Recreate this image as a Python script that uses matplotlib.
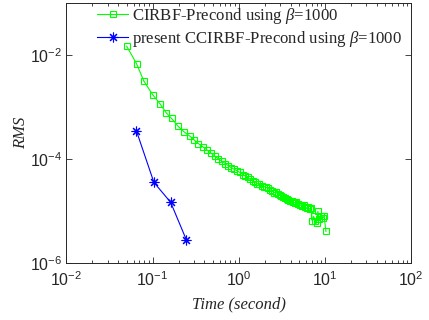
import matplotlib
matplotlib.use("Agg")
import matplotlib.pyplot as plt

# CIRBF-Precond, beta = 1000
t_cirbf = [0.050, 0.065, 0.079, 0.100, 0.122, 0.144, 0.166, 0.198, 0.23, 0.27,
           0.30, 0.34, 0.38, 0.43, 0.48, 0.53, 0.58, 0.64, 0.70, 0.76,
           0.82, 0.89, 0.96, 1.03, 1.11, 1.19, 1.27, 1.36, 1.45, 1.54,
           1.64, 1.74, 1.85, 1.96, 2.07, 2.19, 2.31, 2.44, 2.57, 2.70,
           2.84, 2.98, 3.13, 3.28, 3.44, 3.60, 3.77, 3.94, 4.12, 4.30,
           4.49, 4.68, 4.88, 5.08, 5.29, 5.50, 5.72, 5.95, 6.18, 6.42,
           6.66, 6.91, 7.16, 7.42, 7.70, 8.00, 8.30, 8.60, 9.00, 9.40,
           9.80, 10.3]
rms_cirbf = [1.49e-2, 6.9e-3, 3.2e-3, 1.75e-3, 1.16e-3, 7.8e-4, 6.1e-4, 4.3e-4, 3.4e-4, 2.8e-4,
             2.4e-4, 2.0e-4, 1.75e-4, 1.5e-4, 1.3e-4, 1.15e-4, 1.02e-4, 9.1e-5, 8.3e-5, 7.5e-5,
             6.9e-5, 6.4e-5, 6.0e-5, 5.6e-5, 5.1e-5, 4.8e-5, 4.5e-5, 4.1e-5, 3.9e-5, 3.6e-5,
             3.4e-5, 3.3e-5, 3.1e-5, 3.0e-5, 2.9e-5, 2.75e-5, 2.6e-5, 2.45e-5, 2.3e-5, 2.35e-5,
             2.15e-5, 2.05e-5, 2.0e-5, 1.85e-5, 1.8e-5, 1.75e-5, 1.65e-5, 1.6e-5, 1.55e-5, 1.5e-5,
             1.45e-5, 1.5e-5, 1.4e-5, 1.35e-5, 1.3e-5, 1.25e-5, 1.3e-5, 1.2e-5, 1.15e-5, 1.2e-5,
             1.1e-5, 1.15e-5, 6.4e-6, 8.0e-6, 6.6e-6, 5.9e-6, 1.0e-5, 7.0e-6, 8.2e-6, 7.5e-6,
             8.0e-6, 4.1e-6]

# present CCIRBF-Precond, beta = 1000
t_ccirbf = [0.0647, 0.1035, 0.162, 0.246]
rms_ccirbf = [3.56e-4, 3.6e-5, 1.49e-5, 2.85e-6]

label_cirbf = r"CIRBF-Precond using $\beta$=1000"
label_ccirbf = r"present CCIRBF-Precond using $\beta$=1000"

plt.rcParams["font.family"] = "Liberation Sans"
plt.rcParams["mathtext.fontset"] = "custom"
plt.rcParams["mathtext.rm"] = "Liberation Sans"
plt.rcParams["mathtext.it"] = "Liberation Serif:italic"
plt.rcParams["axes.unicode_minus"] = False

fig = plt.figure(figsize=(4.29, 3.2), dpi=100)
ax = fig.add_axes([0.155, 0.177, 0.803, 0.813])

ax.loglog(t_cirbf, rms_cirbf, color=(0, 1, 0), lw=0.8, marker="s", ms=5,
          mfc="none", mew=0.8, label=label_cirbf)
ax.loglog(t_ccirbf, rms_ccirbf, color=(0, 0, 1), lw=0.8, marker=(8, 2, 0), ms=7,
          mew=0.8, label=label_ccirbf)

ax.set_xlim(1e-2, 1e2)
ax.set_ylim(1e-6, 1e-1)
ax.set_yticks([1e-6, 1e-4, 1e-2])

dark = "#262626"
for s in ax.spines.values():
    s.set_color(dark)
    s.set_linewidth(0.7)
ax.tick_params(which="both", direction="in", top=True, right=True, colors=dark,
               labelsize=11.5, width=0.6)
ax.tick_params(which="major", length=4)
ax.tick_params(which="minor", length=2)
ax.tick_params(axis="x", pad=5)
ax.tick_params(axis="y", pad=3)
ax.tick_params(axis="y", which="minor", left=False, right=False)

ax.set_xlabel("Time (second)", family="Liberation Serif", style="italic",
              fontsize=12, color=dark, labelpad=5)
ax.set_ylabel("RMS", family="Liberation Serif", style="italic",
              fontsize=12, color=dark, labelpad=1)

leg = ax.legend(loc="upper left", bbox_to_anchor=(0.09, 0.988), frameon=False,
                prop={"family": "Liberation Serif", "size": 12.1},
                handlelength=1.8, handletextpad=0.25, labelspacing=0.15,
                borderaxespad=0, borderpad=0)
for txt in leg.get_texts():
    txt.set_color(dark)

fig.savefig("out.png", dpi=100)
